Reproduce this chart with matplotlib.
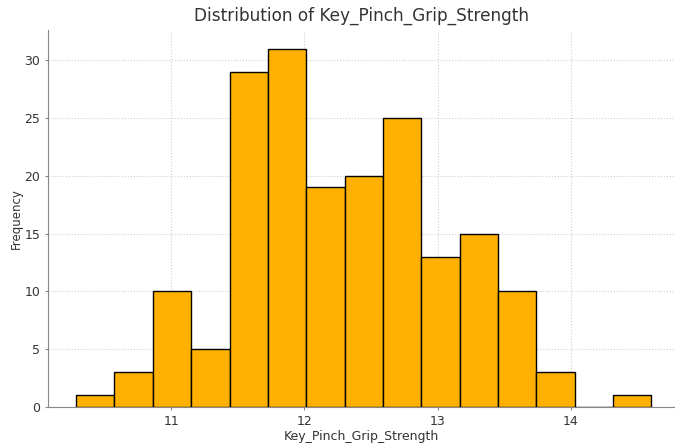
import matplotlib.pyplot as plt
import numpy as np

# histogram: 15 equal bins
bin_start = 10.288
bin_end = 14.602
counts = [1, 3, 10, 5, 29, 31, 19, 20, 25, 13, 15, 10, 3, 0, 1]

edges = np.linspace(bin_start, bin_end, len(counts) + 1)

fig = plt.figure(figsize=(6.75, 4.48), dpi=100)
ax = fig.add_axes([48 / 675, 1 - 407 / 448, 1 - 48 / 675, (407 - 30) / 448])

ax.hist(edges[:-1], bins=edges, weights=counts, color='#FFB000',
        edgecolor='black', linewidth=1, zorder=3)

ax.set_xlim(10.077, 14.78)
ax.set_ylim(0, 32.6)
ax.set_xticks([11, 12, 13, 14])
ax.set_yticks([0, 5, 10, 15, 20, 25, 30])

ax.grid(color='#d0d0d0', linestyle=':', linewidth=0.8, zorder=0)
for s in ['top', 'right']:
    ax.spines[s].set_visible(False)
for s in ['left', 'bottom']:
    ax.spines[s].set_color('#888888')
ax.tick_params(length=2, color='#888888', labelsize=9, labelcolor='#333333')

ax.set_title('Distribution of Key_Pinch_Grip_Strength', fontsize=12.2, color='#333333', pad=7)
ax.set_xlabel('Key_Pinch_Grip_Strength', fontsize=9, color='#333333', labelpad=2)
ax.set_ylabel('Frequency', fontsize=8.5, color='#333333', labelpad=1)

plt.savefig('out.png', dpi=100)
